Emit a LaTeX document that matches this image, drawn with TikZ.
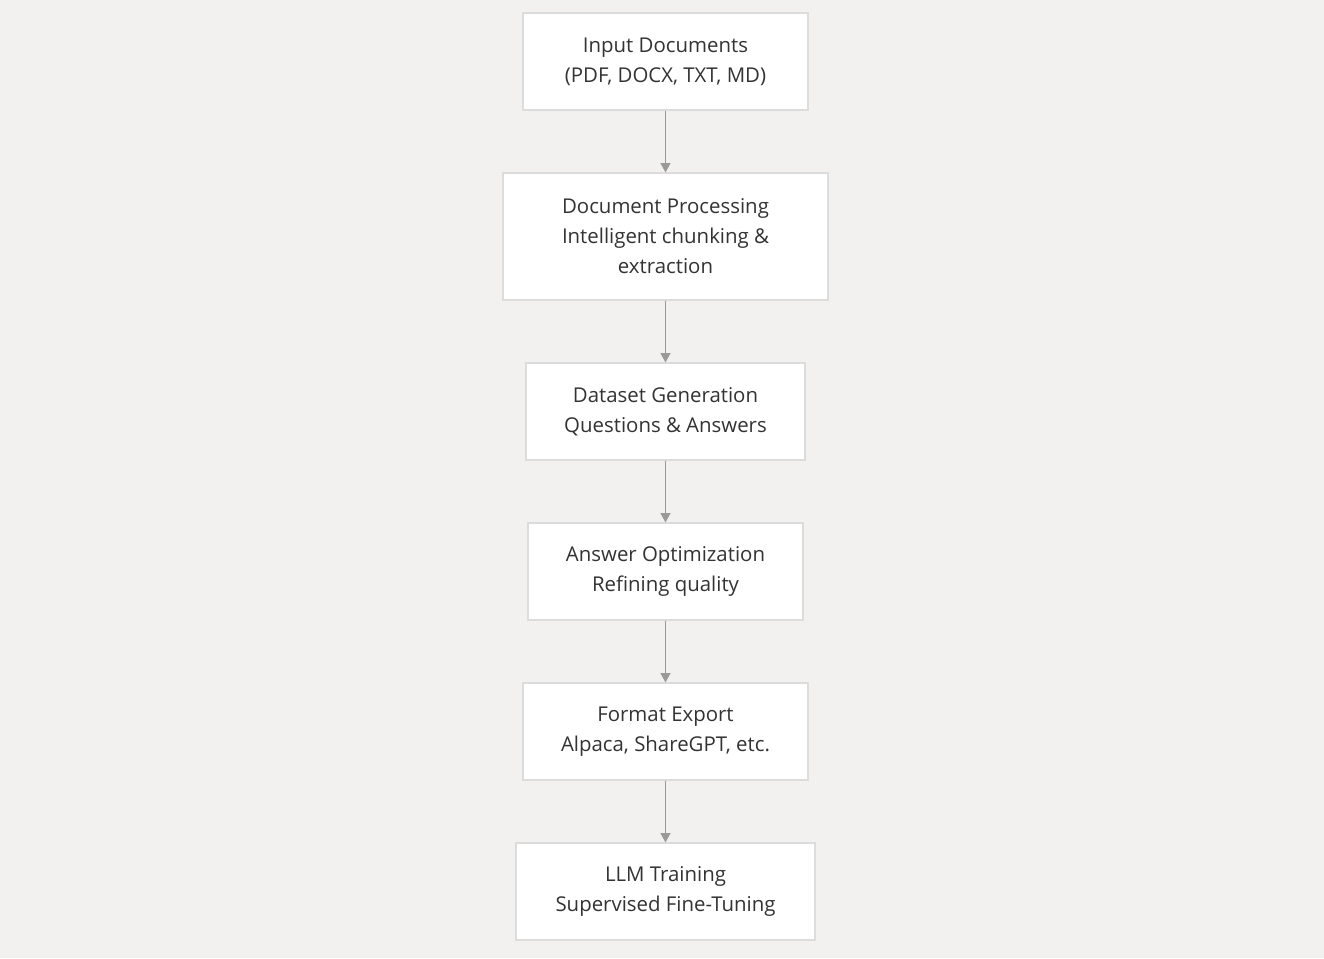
\documentclass[tikz,border=0pt]{standalone}
\usepackage{fontspec}
\setmainfont{Open Sans}
\usetikzlibrary{arrows.meta}
\definecolor{bgcol}{HTML}{F2F1EF}
\definecolor{boxline}{HTML}{DCDCDC}
\definecolor{arrowcol}{HTML}{999999}
\definecolor{textcol}{HTML}{333333}
\tikzset{
  stage/.style={draw=boxline,line width=0.9pt,fill=white,text=textcol,align=center,
    font=\fontsize{15.3pt}{22.5pt}\selectfont,inner sep=0pt,minimum height=72.75pt},
  flow/.style={draw=arrowcol,line width=0.9pt,-{Triangle[length=7pt,width=7.5pt]}}
}
\begin{document}
\begin{tikzpicture}[x=0.75pt,y=-0.75pt]
% Background
\fill[bgcol] (0,0) rectangle (1324,958);
\useasboundingbox (0,0) rectangle (1324,958);

% Pipeline stages
\node[stage,minimum width=213.75pt] (input) at (665.5,61.5) {Input Documents\\(PDF, DOCX, TXT, MD)};
\node[stage,minimum width=243.75pt,minimum height=95.25pt] (proc) at (665.5,236.5) {Document Processing\\Intelligent chunking \&\\extraction};
\node[stage,minimum width=209.25pt] (gen) at (665.5,411.5) {Dataset Generation\\Questions \& Answers};
\node[stage,minimum width=206.25pt] (opt) at (665.5,571.5) {Answer Optimization\\Refining quality};
\node[stage,minimum width=213.75pt] (export) at (665.5,731.5) {Format Export\\Alpaca, ShareGPT, etc.};
\node[stage,minimum width=224.25pt] (train) at (665.5,891.5) {LLM Training\\Supervised Fine-Tuning};

% Arrows
\draw[flow] (input) -- (proc);
\draw[flow] (proc) -- (gen);
\draw[flow] (gen) -- (opt);
\draw[flow] (opt) -- (export);
\draw[flow] (export) -- (train);
\end{tikzpicture}
\end{document}
